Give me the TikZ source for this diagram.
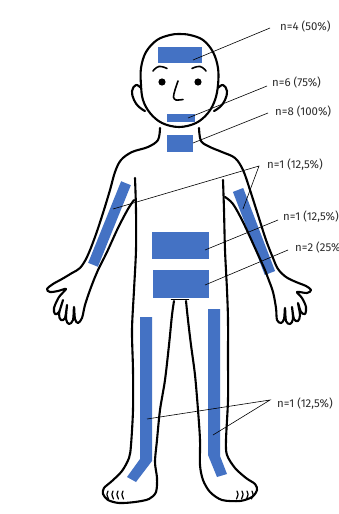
\documentclass[tikz,border=0pt]{standalone}
\usepackage{fontspec}
\setmainfont{Fira Sans}
\definecolor{tapeblue}{HTML}{4472C4}
\definecolor{labelgray}{HTML}{2B2B2B}
\begin{document}
\begin{tikzpicture}[x=1pt,y=-1pt,
  outline/.style={line width=2.1pt, line join=round, line cap=round},
  thin outline/.style={line width=1.6pt, line cap=round},
  tape/.style={fill=tapeblue, draw=none, inner sep=0pt},
  leader/.style={line width=0.6pt},
  lbl/.style={anchor=west, inner sep=0pt, font=\fontsize{11.4}{13}\selectfont, text=labelgray}]
\useasboundingbox[fill=white] (0,0) rectangle (339,514);

% ---------- tape areas ----------
\node[tape, minimum width=44pt, minimum height=16pt] (forehead) at (180,55) {};
\node[tape, minimum width=28pt, minimum height=8pt] (chin) at (181,118) {};
\node[tape, minimum width=26pt, minimum height=17pt] (neck) at (180,143.5) {};
\node[tape, minimum width=57pt, minimum height=27pt] (belly) at (180.5,245.5) {};
\node[tape, minimum width=56pt, minimum height=28pt] (hips) at (181,284) {};
\node[tape, minimum width=88pt, minimum height=10.5pt, rotate=68] (larm) at (109.5,224) {};
\node[tape, minimum width=89pt, minimum height=11pt, rotate=111] (rarm) at (254,231.5) {};
\fill[tapeblue] (140,317) -- (152,317) -- (152,461) -- (136,482) -- (127,477) -- (140,459) -- cycle;
\fill[tapeblue] (208,309) -- (220,309) -- (220,456) -- (227,474) -- (217,477) -- (208,455) -- cycle;

% ---------- head ----------
\draw[outline] plot[smooth cycle, tension=0.6] coordinates {
  (179,127) (162,123) (150,113) (143,100) (141,85) (141,68) (146,52) (157,40)
  (170,35) (179,34) (190,35) (203,40) (213,52) (218,68) (218,85) (215,100)
  (208,113) (196,123)};
% ears
\draw[outline] plot[smooth, tension=0.7] coordinates {(141,88) (136,85) (132,91) (134,100) (139,107) (145,111)};
\draw[outline] plot[smooth, tension=0.7] coordinates {(218,88) (223,85) (227,91) (225,100) (220,107) (214,111)};
% brows, eyes, nose
\draw[thin outline] plot[smooth, tension=0.8] coordinates {(153,71) (159,66.5) (167,68.5)};
\draw[thin outline] plot[smooth, tension=0.8] coordinates {(192,68.5) (200,66.5) (206,71)};
\fill (162,82) circle (3.6pt);
\fill (198,82) circle (3.6pt);
\draw[thin outline] plot[smooth, tension=0.5] coordinates {(178,81) (175,90) (173.5,97) (176,100) (183,99.5)};

% ---------- left arm and hand ----------
\draw[outline] plot[smooth, tension=0.55] coordinates {
  (160,128) (158,140) (148,147) (132,152) (121,160) (115,172) (110,190) (103,213)
  (95,237) (87,257) (80,268) (72,273) (62,279) (53,284) (47,289) (50,292) (58,291) (66,289)
  (59,297) (54,308) (55,314) (59,312) (63,300)
  (59,314) (61,320) (65,318) (67,305)
  (66,319) (69,324) (73,320) (74,307)
  (75,319) (78,323) (82,318) (85,305) (90,290) (95,277) (98,270)
  (107,252) (118,228) (128,209) (134,200)};

% ---------- right arm and hand ----------
\draw[outline] plot[smooth, tension=0.55] coordinates {
  (199,128) (201,141) (210,147) (222,152) (235,158) (243,170) (250,190) (258,215)
  (266,240) (273,258) (278,269) (286,277) (296,282) (306,286) (311,290) (307,293) (297,292)
  (302,298) (306,307) (305,314) (301,312) (298,303)
  (300,315) (298,321) (294,319) (292,307)
  (293,319) (290,324) (286,321) (285,308)
  (284,319) (281,323) (277,320) (276,308) (273,292) (268,278) (265,270)
  (255,248) (243,222) (233,204) (225,197)};

% ---------- torso, legs and feet ----------
\draw[outline] plot[smooth, tension=0.5] coordinates {
  (135,178) (136,210) (136,250) (134,290) (132,330) (133,370) (133,410) (131,445) (129,458)
  (122,471) (112,481) (104,488) (103,494) (108,500) (119,503) (135,502) (149,499)
  (156,492) (157,478) (155,462) (157,440) (160,410) (165,380) (169,345) (172,315) (174,301)};
\draw[outline] plot[smooth, tension=0.5] coordinates {
  (186,301) (188,320) (191,345) (195,375) (198,410) (200,440) (200,465) (203,480)
  (210,492) (222,500) (240,501) (252,497) (257,490) (255,484) (246,478) (235,468)
  (227,455) (226,440) (228,400) (228,360) (228,320) (227,290) (225,250) (224,210) (223,180)};
\draw[thin outline] (171.5,299.5) -- (188.5,299.5);
% toes
\foreach \tx in {108,113,118,123}
  \draw[line width=1.2pt, line cap=round] (\tx,491) .. controls (\tx-1.5,494) .. (\tx+0.5,499);
\foreach \tx in {237,242,247,252}
  \draw[line width=1.2pt, line cap=round] (\tx,491) .. controls (\tx+1.5,494) .. (\tx-0.5,499);

% ---------- labels ----------
\node[lbl] (t1) at (280,27)  {n=4 (50\%)};
\node[lbl] (t2) at (272,83)  {n=6 (75\%)};
\node[lbl] (t3) at (275,112) {n=8 (100\%)};
\node[lbl] (t4) at (267,165) {n=1 (12,5\%)};
\node[lbl] (t5) at (283,217) {n=1 (12,5\%)};
\node[lbl] (t6) at (295,248) {n=2 (25\%)};
\node[lbl] (t7) at (277,404) {n=1 (12,5\%)};

% leader anchors
\coordinate (s1) at (193,60);
\coordinate (s2) at (188,118);
\coordinate (s3) at (193,143);
\coordinate (s4a) at (113,209);
\coordinate (s4b) at (243,209);
\coordinate (s5) at (205,250);
\coordinate (s6) at (205,285);
\coordinate (s7a) at (147,419);
\coordinate (s7b) at (213,435);
\coordinate (e1) at (270,28);
\coordinate (e2) at (267,86);
\coordinate (e3) at (268,113);
\coordinate (e4) at (259,166);
\coordinate (e5) at (278,220);
\coordinate (e6) at (288,250);
\coordinate (e7) at (270,400);

\draw[leader] (s1) -- (e1);
\draw[leader] (s2) -- (e2);
\draw[leader] (s3) -- (e3);
\draw[leader] (s4a) -- (e4) -- (s4b);
\draw[leader] (s5) -- (e5);
\draw[leader] (s6) -- (e6);
\draw[leader] (s7a) -- (e7) -- (s7b);
\end{tikzpicture}
\end{document}
